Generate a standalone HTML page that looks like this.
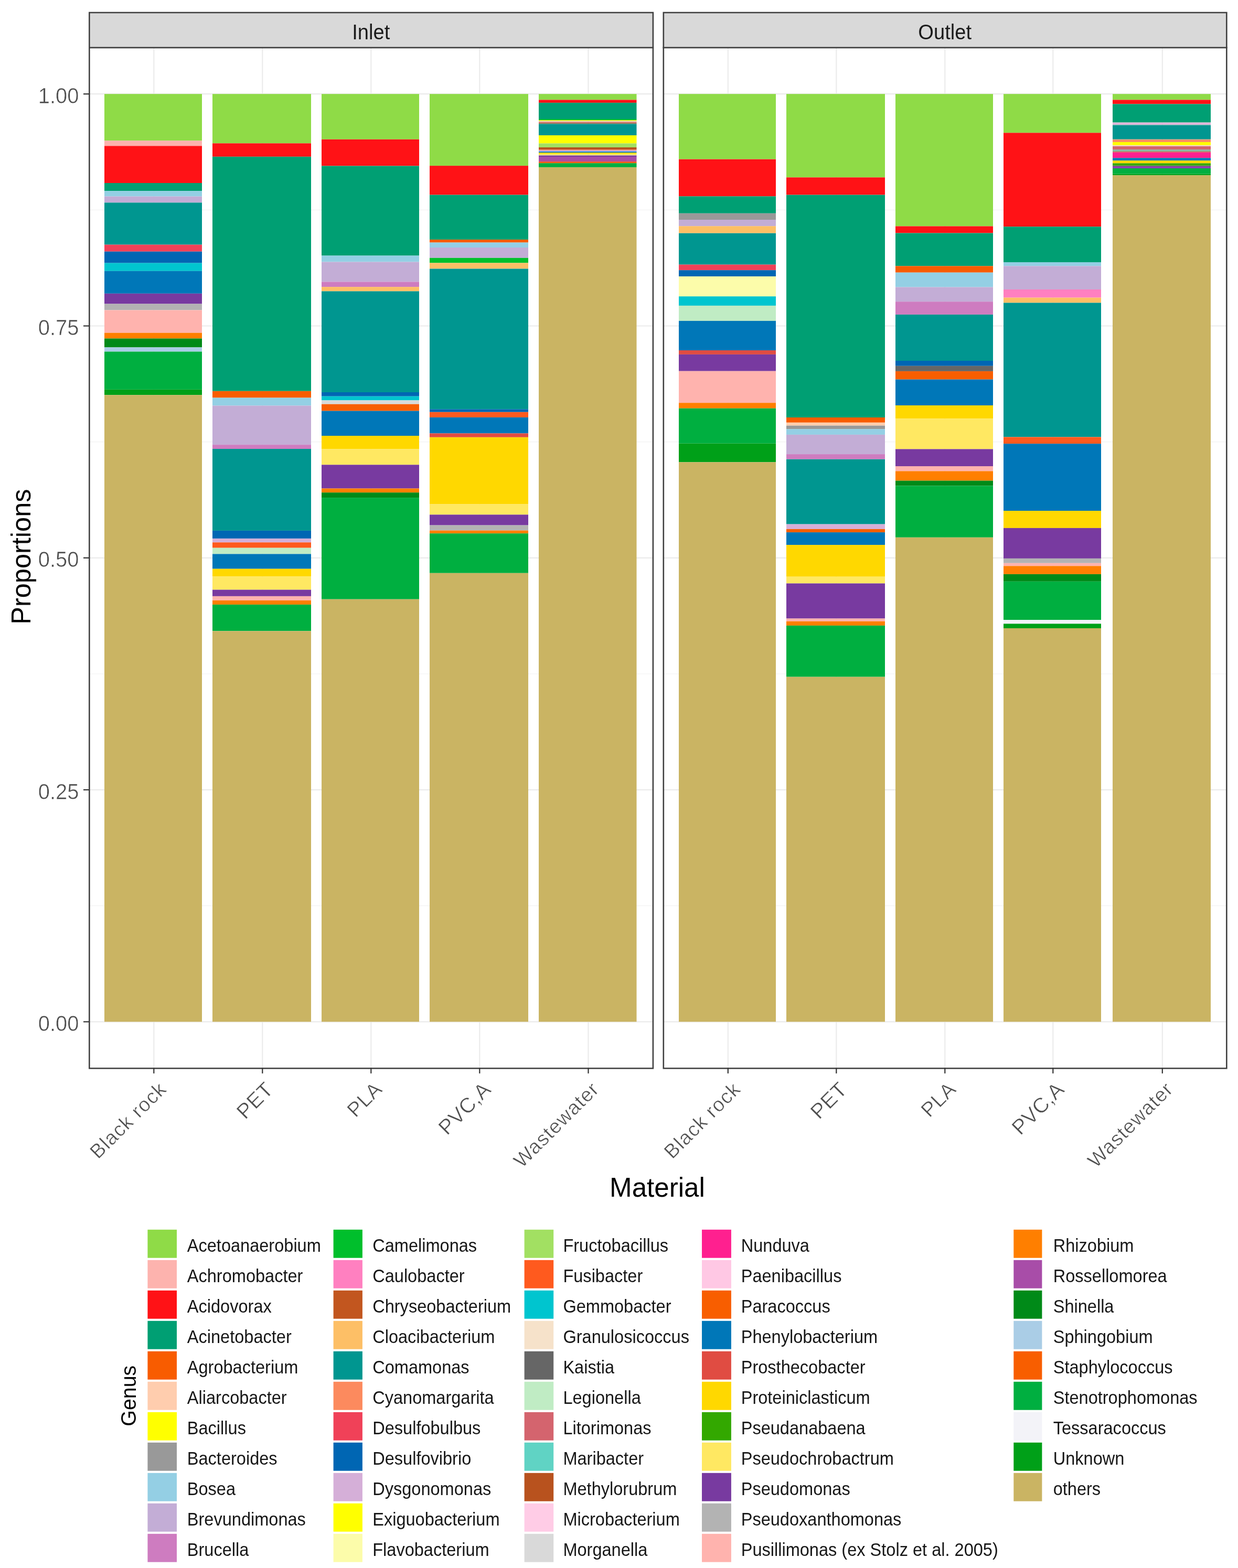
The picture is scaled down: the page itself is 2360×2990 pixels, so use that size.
<!DOCTYPE html>
<html><head><meta charset="utf-8"><title>Genus proportions by material</title>
<style>html,body{margin:0;padding:0;background:#fff;}svg{display:block;}text{font-family:'Liberation Sans', Arial, Helvetica, sans-serif;}</style></head><body>
<svg width="2360" height="2990" viewBox="0 0 2360 2990">
<rect x="0" y="0" width="2360" height="2990" fill="#FFFFFF"/>
<line x1="170.0" y1="1727.2" x2="1244.6" y2="1727.2" stroke="#F2F2F2" stroke-width="1.2"/>
<line x1="170.0" y1="1285.0" x2="1244.6" y2="1285.0" stroke="#F2F2F2" stroke-width="1.2"/>
<line x1="170.0" y1="842.7" x2="1244.6" y2="842.7" stroke="#F2F2F2" stroke-width="1.2"/>
<line x1="170.0" y1="400.4" x2="1244.6" y2="400.4" stroke="#F2F2F2" stroke-width="1.2"/>
<line x1="170.0" y1="1948.4" x2="1244.6" y2="1948.4" stroke="#EBEBEB" stroke-width="2.2"/>
<line x1="170.0" y1="1506.1" x2="1244.6" y2="1506.1" stroke="#EBEBEB" stroke-width="2.2"/>
<line x1="170.0" y1="1063.8" x2="1244.6" y2="1063.8" stroke="#EBEBEB" stroke-width="2.2"/>
<line x1="170.0" y1="621.5" x2="1244.6" y2="621.5" stroke="#EBEBEB" stroke-width="2.2"/>
<line x1="170.0" y1="179.2" x2="1244.6" y2="179.2" stroke="#EBEBEB" stroke-width="2.2"/>
<line x1="293.3" y1="90.8" x2="293.3" y2="2036.9" stroke="#EBEBEB" stroke-width="2.2"/>
<line x1="500.3" y1="90.8" x2="500.3" y2="2036.9" stroke="#EBEBEB" stroke-width="2.2"/>
<line x1="707.3" y1="90.8" x2="707.3" y2="2036.9" stroke="#EBEBEB" stroke-width="2.2"/>
<line x1="914.3" y1="90.8" x2="914.3" y2="2036.9" stroke="#EBEBEB" stroke-width="2.2"/>
<line x1="1121.5" y1="90.8" x2="1121.5" y2="2036.9" stroke="#EBEBEB" stroke-width="2.2"/>
<rect x="199.0" y="179.2" width="186.0" height="89.0" fill="#8FDB47"/>
<rect x="199.0" y="268.2" width="186.0" height="10.1" fill="#FDB3AE"/>
<rect x="199.0" y="278.3" width="186.0" height="70.7" fill="#FF1216"/>
<rect x="199.0" y="349.0" width="186.0" height="15.2" fill="#009F73"/>
<rect x="199.0" y="364.2" width="186.0" height="10.4" fill="#94CFE4"/>
<rect x="199.0" y="374.6" width="186.0" height="11.8" fill="#C3ADD6"/>
<rect x="199.0" y="386.4" width="186.0" height="80.2" fill="#009690"/>
<rect x="199.0" y="466.6" width="186.0" height="13.1" fill="#F04158"/>
<rect x="199.0" y="479.7" width="186.0" height="21.9" fill="#0066B3"/>
<rect x="199.0" y="501.6" width="186.0" height="15.2" fill="#00C5CF"/>
<rect x="199.0" y="516.8" width="186.0" height="43.0" fill="#0077B8"/>
<rect x="199.0" y="559.8" width="186.0" height="19.7" fill="#783AA0"/>
<rect x="199.0" y="579.5" width="186.0" height="11.9" fill="#B3B3B3"/>
<rect x="199.0" y="591.4" width="186.0" height="43.3" fill="#FFB3AE"/>
<rect x="199.0" y="634.7" width="186.0" height="10.8" fill="#FF7F00"/>
<rect x="199.0" y="645.5" width="186.0" height="16.9" fill="#008A18"/>
<rect x="199.0" y="662.4" width="186.0" height="8.1" fill="#AACDE6"/>
<rect x="199.0" y="670.5" width="186.0" height="72.3" fill="#00AF40"/>
<rect x="199.0" y="742.8" width="186.0" height="10.4" fill="#00A018"/>
<rect x="199.0" y="753.2" width="186.0" height="1195.2" fill="#CAB463"/>
<rect x="405.0" y="179.2" width="188.0" height="94.1" fill="#8FDB47"/>
<rect x="405.0" y="273.3" width="188.0" height="25.5" fill="#FF1216"/>
<rect x="405.0" y="298.8" width="188.0" height="447.0" fill="#009F73"/>
<rect x="405.0" y="745.8" width="188.0" height="12.7" fill="#F85C00"/>
<rect x="405.0" y="758.5" width="188.0" height="15.0" fill="#94CFE4"/>
<rect x="405.0" y="773.5" width="188.0" height="74.6" fill="#C3ADD6"/>
<rect x="405.0" y="848.1" width="188.0" height="7.9" fill="#CE7CC0"/>
<rect x="405.0" y="856.0" width="188.0" height="155.9" fill="#009690"/>
<rect x="405.0" y="1011.9" width="188.0" height="15.0" fill="#0066B3"/>
<rect x="405.0" y="1026.9" width="188.0" height="7.4" fill="#D5AFD8"/>
<rect x="405.0" y="1034.3" width="188.0" height="10.4" fill="#FF5A1E"/>
<rect x="405.0" y="1044.7" width="188.0" height="11.7" fill="#C0ECC4"/>
<rect x="405.0" y="1056.4" width="188.0" height="28.3" fill="#0077B8"/>
<rect x="405.0" y="1084.7" width="188.0" height="14.7" fill="#FFD800"/>
<rect x="405.0" y="1099.4" width="188.0" height="25.2" fill="#FFE862"/>
<rect x="405.0" y="1124.6" width="188.0" height="12.3" fill="#783AA0"/>
<rect x="405.0" y="1136.9" width="188.0" height="8.0" fill="#FFB3AE"/>
<rect x="405.0" y="1144.9" width="188.0" height="8.0" fill="#FF7F00"/>
<rect x="405.0" y="1152.9" width="188.0" height="50.4" fill="#00AF40"/>
<rect x="405.0" y="1203.3" width="188.0" height="745.1" fill="#CAB463"/>
<rect x="613.0" y="179.2" width="186.0" height="86.6" fill="#8FDB47"/>
<rect x="613.0" y="265.8" width="186.0" height="50.6" fill="#FF1216"/>
<rect x="613.0" y="316.4" width="186.0" height="171.1" fill="#009F73"/>
<rect x="613.0" y="487.5" width="186.0" height="12.0" fill="#94CFE4"/>
<rect x="613.0" y="499.5" width="186.0" height="37.9" fill="#C3ADD6"/>
<rect x="613.0" y="537.4" width="186.0" height="9.7" fill="#CE7CC0"/>
<rect x="613.0" y="547.1" width="186.0" height="8.3" fill="#FDBF66"/>
<rect x="613.0" y="555.4" width="186.0" height="192.6" fill="#009690"/>
<rect x="613.0" y="748.0" width="186.0" height="7.7" fill="#0066B3"/>
<rect x="613.0" y="755.7" width="186.0" height="7.7" fill="#00C5CF"/>
<rect x="613.0" y="763.4" width="186.0" height="7.3" fill="#D9D9D9"/>
<rect x="613.0" y="770.7" width="186.0" height="12.9" fill="#F85E00"/>
<rect x="613.0" y="783.6" width="186.0" height="47.4" fill="#0077B8"/>
<rect x="613.0" y="831.0" width="186.0" height="25.2" fill="#FFD800"/>
<rect x="613.0" y="856.2" width="186.0" height="30.1" fill="#FFE862"/>
<rect x="613.0" y="886.3" width="186.0" height="45.2" fill="#783AA0"/>
<rect x="613.0" y="931.5" width="186.0" height="7.7" fill="#FF7F00"/>
<rect x="613.0" y="939.2" width="186.0" height="9.9" fill="#008A18"/>
<rect x="613.0" y="949.1" width="186.0" height="193.6" fill="#00AF40"/>
<rect x="613.0" y="1142.7" width="186.0" height="805.7" fill="#CAB463"/>
<rect x="819.0" y="179.2" width="188.0" height="136.9" fill="#8FDB47"/>
<rect x="819.0" y="316.1" width="188.0" height="55.5" fill="#FF1216"/>
<rect x="819.0" y="371.6" width="188.0" height="85.3" fill="#009F73"/>
<rect x="819.0" y="456.9" width="188.0" height="5.6" fill="#F85C00"/>
<rect x="819.0" y="462.5" width="188.0" height="9.5" fill="#94CFE4"/>
<rect x="819.0" y="472.0" width="188.0" height="19.8" fill="#C3ADD6"/>
<rect x="819.0" y="491.8" width="188.0" height="9.6" fill="#00BF2C"/>
<rect x="819.0" y="501.4" width="188.0" height="11.1" fill="#FDBF66"/>
<rect x="819.0" y="512.5" width="188.0" height="267.8" fill="#009690"/>
<rect x="819.0" y="780.3" width="188.0" height="5.5" fill="#0066B3"/>
<rect x="819.0" y="785.8" width="188.0" height="10.1" fill="#FF5A1E"/>
<rect x="819.0" y="795.9" width="188.0" height="30.5" fill="#0077B8"/>
<rect x="819.0" y="826.4" width="188.0" height="7.4" fill="#E04C42"/>
<rect x="819.0" y="833.8" width="188.0" height="127.7" fill="#FFD800"/>
<rect x="819.0" y="961.5" width="188.0" height="19.9" fill="#FFE862"/>
<rect x="819.0" y="981.4" width="188.0" height="20.2" fill="#783AA0"/>
<rect x="819.0" y="1001.6" width="188.0" height="10.0" fill="#B3B3B3"/>
<rect x="819.0" y="1011.6" width="188.0" height="5.6" fill="#FF7F00"/>
<rect x="819.0" y="1017.2" width="188.0" height="75.6" fill="#00AF40"/>
<rect x="819.0" y="1092.8" width="188.0" height="855.6" fill="#CAB463"/>
<rect x="1027.0" y="179.2" width="186.5" height="11.2" fill="#8FDB47"/>
<rect x="1027.0" y="190.4" width="186.5" height="5.5" fill="#FF1216"/>
<rect x="1027.0" y="195.9" width="186.5" height="31.1" fill="#009F73"/>
<rect x="1027.0" y="227.0" width="186.5" height="2.0" fill="#00BF2C"/>
<rect x="1027.0" y="229.0" width="186.5" height="2.2" fill="#F2F245"/>
<rect x="1027.0" y="231.2" width="186.5" height="1.6" fill="#DDB8C0"/>
<rect x="1027.0" y="232.8" width="186.5" height="2.0" fill="#D86858"/>
<rect x="1027.0" y="234.8" width="186.5" height="1.7" fill="#767050"/>
<rect x="1027.0" y="236.5" width="186.5" height="21.5" fill="#009690"/>
<rect x="1027.0" y="258.0" width="186.5" height="15.5" fill="#FFFF00"/>
<rect x="1027.0" y="273.5" width="186.5" height="7.5" fill="#A2E062"/>
<rect x="1027.0" y="281.0" width="186.5" height="4.0" fill="#B8521E"/>
<rect x="1027.0" y="285.0" width="186.5" height="2.1" fill="#F09080"/>
<rect x="1027.0" y="287.1" width="186.5" height="2.1" fill="#B0B0E8"/>
<rect x="1027.0" y="289.2" width="186.5" height="1.9" fill="#0077B8"/>
<rect x="1027.0" y="291.1" width="186.5" height="2.2" fill="#FFD800"/>
<rect x="1027.0" y="293.3" width="186.5" height="2.2" fill="#FFF040"/>
<rect x="1027.0" y="295.5" width="186.5" height="1.3" fill="#C8A890"/>
<rect x="1027.0" y="296.8" width="186.5" height="2.2" fill="#783AA0"/>
<rect x="1027.0" y="299.0" width="186.5" height="8.0" fill="#A84DA8"/>
<rect x="1027.0" y="307.0" width="186.5" height="1.9" fill="#D05070"/>
<rect x="1027.0" y="308.9" width="186.5" height="2.3" fill="#F85E00"/>
<rect x="1027.0" y="311.2" width="186.5" height="7.7" fill="#00AF40"/>
<rect x="1027.0" y="318.9" width="186.5" height="1629.5" fill="#CAB463"/>
<rect x="170.3" y="90.8" width="1074.6" height="1946.4" fill="none" stroke="#404040" stroke-width="2.6"/>
<rect x="170.3" y="24.0" width="1074.6" height="66.8" fill="#D9D9D9" stroke="#404040" stroke-width="2.6"/>
<text x="0" y="0" font-size="41" fill="#1A1A1A" text-anchor="middle" transform="translate(707.3 75.0) scale(0.9300 1)">Inlet</text>
<line x1="293.3" y1="2036.9" x2="293.3" y2="2046.9" stroke="#333333" stroke-width="2.2"/>
<text x="0" y="0" font-size="38" fill="#4D4D4D" text-anchor="end" dominant-baseline="hanging" stroke="#ffffff" stroke-width="0.6" letter-spacing="1.2" transform="translate(300.3 2059.9) rotate(-45)">Black rock</text>
<line x1="500.3" y1="2036.9" x2="500.3" y2="2046.9" stroke="#333333" stroke-width="2.2"/>
<text x="0" y="0" font-size="40" fill="#4D4D4D" text-anchor="end" dominant-baseline="hanging" stroke="#ffffff" stroke-width="0.6" letter-spacing="0.3" transform="translate(502.8 2059.9) rotate(-45)">PET</text>
<line x1="707.3" y1="2036.9" x2="707.3" y2="2046.9" stroke="#333333" stroke-width="2.2"/>
<text x="0" y="0" font-size="39" fill="#4D4D4D" text-anchor="end" dominant-baseline="hanging" stroke="#ffffff" stroke-width="0.6" letter-spacing="0.3" transform="translate(710.8 2059.9) rotate(-45)">PLA</text>
<line x1="914.3" y1="2036.9" x2="914.3" y2="2046.9" stroke="#333333" stroke-width="2.2"/>
<text x="0" y="0" font-size="40" fill="#4D4D4D" text-anchor="end" dominant-baseline="hanging" stroke="#ffffff" stroke-width="0.6" letter-spacing="0.3" transform="translate(917.8 2059.9) rotate(-45)">PVC,A</text>
<line x1="1121.5" y1="2036.9" x2="1121.5" y2="2046.9" stroke="#333333" stroke-width="2.2"/>
<text x="0" y="0" font-size="38" fill="#4D4D4D" text-anchor="end" dominant-baseline="hanging" stroke="#ffffff" stroke-width="0.6" letter-spacing="1.2" transform="translate(1125.0 2059.9) rotate(-45)">Wastewater</text>
<line x1="1264.5" y1="1727.2" x2="2338.0" y2="1727.2" stroke="#F2F2F2" stroke-width="1.2"/>
<line x1="1264.5" y1="1285.0" x2="2338.0" y2="1285.0" stroke="#F2F2F2" stroke-width="1.2"/>
<line x1="1264.5" y1="842.7" x2="2338.0" y2="842.7" stroke="#F2F2F2" stroke-width="1.2"/>
<line x1="1264.5" y1="400.4" x2="2338.0" y2="400.4" stroke="#F2F2F2" stroke-width="1.2"/>
<line x1="1264.5" y1="1948.4" x2="2338.0" y2="1948.4" stroke="#EBEBEB" stroke-width="2.2"/>
<line x1="1264.5" y1="1506.1" x2="2338.0" y2="1506.1" stroke="#EBEBEB" stroke-width="2.2"/>
<line x1="1264.5" y1="1063.8" x2="2338.0" y2="1063.8" stroke="#EBEBEB" stroke-width="2.2"/>
<line x1="1264.5" y1="621.5" x2="2338.0" y2="621.5" stroke="#EBEBEB" stroke-width="2.2"/>
<line x1="1264.5" y1="179.2" x2="2338.0" y2="179.2" stroke="#EBEBEB" stroke-width="2.2"/>
<line x1="1387.8" y1="90.8" x2="1387.8" y2="2036.9" stroke="#EBEBEB" stroke-width="2.2"/>
<line x1="1594.3" y1="90.8" x2="1594.3" y2="2036.9" stroke="#EBEBEB" stroke-width="2.2"/>
<line x1="1801.3" y1="90.8" x2="1801.3" y2="2036.9" stroke="#EBEBEB" stroke-width="2.2"/>
<line x1="2007.3" y1="90.8" x2="2007.3" y2="2036.9" stroke="#EBEBEB" stroke-width="2.2"/>
<line x1="2215.8" y1="90.8" x2="2215.8" y2="2036.9" stroke="#EBEBEB" stroke-width="2.2"/>
<rect x="1294.0" y="179.2" width="185.0" height="124.5" fill="#8FDB47"/>
<rect x="1294.0" y="303.7" width="185.0" height="70.7" fill="#FF1216"/>
<rect x="1294.0" y="374.4" width="185.0" height="32.4" fill="#009F73"/>
<rect x="1294.0" y="406.8" width="185.0" height="12.2" fill="#999999"/>
<rect x="1294.0" y="419.0" width="185.0" height="12.2" fill="#C3ADD6"/>
<rect x="1294.0" y="431.2" width="185.0" height="13.5" fill="#FDBF66"/>
<rect x="1294.0" y="444.7" width="185.0" height="59.9" fill="#009690"/>
<rect x="1294.0" y="504.6" width="185.0" height="10.6" fill="#F04158"/>
<rect x="1294.0" y="515.2" width="185.0" height="11.9" fill="#0066B3"/>
<rect x="1294.0" y="527.1" width="185.0" height="38.1" fill="#FCFCAA"/>
<rect x="1294.0" y="565.2" width="185.0" height="17.7" fill="#00C5CF"/>
<rect x="1294.0" y="582.9" width="185.0" height="29.0" fill="#C0ECC4"/>
<rect x="1294.0" y="611.9" width="185.0" height="56.1" fill="#0077B8"/>
<rect x="1294.0" y="668.0" width="185.0" height="7.9" fill="#E04C42"/>
<rect x="1294.0" y="675.9" width="185.0" height="31.8" fill="#783AA0"/>
<rect x="1294.0" y="707.7" width="185.0" height="60.5" fill="#FFB3AE"/>
<rect x="1294.0" y="768.2" width="185.0" height="10.5" fill="#FF7F00"/>
<rect x="1294.0" y="778.7" width="185.0" height="67.0" fill="#00AF40"/>
<rect x="1294.0" y="845.7" width="185.0" height="35.6" fill="#00A018"/>
<rect x="1294.0" y="881.3" width="185.0" height="1067.1" fill="#CAB463"/>
<rect x="1499.0" y="179.2" width="188.0" height="159.1" fill="#8FDB47"/>
<rect x="1499.0" y="338.3" width="188.0" height="33.3" fill="#FF1216"/>
<rect x="1499.0" y="371.6" width="188.0" height="424.4" fill="#009F73"/>
<rect x="1499.0" y="796.0" width="188.0" height="9.8" fill="#F85C00"/>
<rect x="1499.0" y="805.8" width="188.0" height="5.8" fill="#FFCDAE"/>
<rect x="1499.0" y="811.6" width="188.0" height="6.6" fill="#999999"/>
<rect x="1499.0" y="818.2" width="188.0" height="10.7" fill="#94CFE4"/>
<rect x="1499.0" y="828.9" width="188.0" height="37.2" fill="#C3ADD6"/>
<rect x="1499.0" y="866.1" width="188.0" height="9.7" fill="#CE7CC0"/>
<rect x="1499.0" y="875.8" width="188.0" height="123.8" fill="#009690"/>
<rect x="1499.0" y="999.6" width="188.0" height="9.3" fill="#D5AFD8"/>
<rect x="1499.0" y="1008.9" width="188.0" height="6.2" fill="#F85E00"/>
<rect x="1499.0" y="1015.1" width="188.0" height="24.0" fill="#0077B8"/>
<rect x="1499.0" y="1039.1" width="188.0" height="60.6" fill="#FFD800"/>
<rect x="1499.0" y="1099.7" width="188.0" height="12.8" fill="#FFE862"/>
<rect x="1499.0" y="1112.5" width="188.0" height="67.0" fill="#783AA0"/>
<rect x="1499.0" y="1179.5" width="188.0" height="5.3" fill="#FFB3AE"/>
<rect x="1499.0" y="1184.8" width="188.0" height="8.1" fill="#FF7F00"/>
<rect x="1499.0" y="1192.9" width="188.0" height="97.8" fill="#00AF40"/>
<rect x="1499.0" y="1290.7" width="188.0" height="657.7" fill="#CAB463"/>
<rect x="1707.0" y="179.2" width="186.0" height="252.2" fill="#8FDB47"/>
<rect x="1707.0" y="431.4" width="186.0" height="13.1" fill="#FF1216"/>
<rect x="1707.0" y="444.5" width="186.0" height="62.8" fill="#009F73"/>
<rect x="1707.0" y="507.3" width="186.0" height="12.4" fill="#F85C00"/>
<rect x="1707.0" y="519.7" width="186.0" height="27.8" fill="#94CFE4"/>
<rect x="1707.0" y="547.5" width="186.0" height="27.7" fill="#C3ADD6"/>
<rect x="1707.0" y="575.2" width="186.0" height="24.7" fill="#CE7CC0"/>
<rect x="1707.0" y="599.9" width="186.0" height="88.1" fill="#009690"/>
<rect x="1707.0" y="688.0" width="186.0" height="9.8" fill="#0066B3"/>
<rect x="1707.0" y="697.8" width="186.0" height="10.1" fill="#666666"/>
<rect x="1707.0" y="707.9" width="186.0" height="15.7" fill="#F85E00"/>
<rect x="1707.0" y="723.6" width="186.0" height="49.4" fill="#0077B8"/>
<rect x="1707.0" y="773.0" width="186.0" height="25.3" fill="#FFD800"/>
<rect x="1707.0" y="798.3" width="186.0" height="58.1" fill="#FFE862"/>
<rect x="1707.0" y="856.4" width="186.0" height="32.6" fill="#783AA0"/>
<rect x="1707.0" y="889.0" width="186.0" height="9.4" fill="#FFB3AE"/>
<rect x="1707.0" y="898.4" width="186.0" height="18.2" fill="#FF7F00"/>
<rect x="1707.0" y="916.6" width="186.0" height="9.9" fill="#008A18"/>
<rect x="1707.0" y="926.5" width="186.0" height="98.3" fill="#00AF40"/>
<rect x="1707.0" y="1024.8" width="186.0" height="923.6" fill="#CAB463"/>
<rect x="1913.0" y="179.2" width="186.0" height="74.1" fill="#8FDB47"/>
<rect x="1913.0" y="253.3" width="186.0" height="178.9" fill="#FF1216"/>
<rect x="1913.0" y="432.2" width="186.0" height="67.8" fill="#009F73"/>
<rect x="1913.0" y="500.0" width="186.0" height="7.3" fill="#94CFE4"/>
<rect x="1913.0" y="507.3" width="186.0" height="44.7" fill="#C3ADD6"/>
<rect x="1913.0" y="552.0" width="186.0" height="15.6" fill="#FF80C0"/>
<rect x="1913.0" y="567.6" width="186.0" height="9.8" fill="#FDBF66"/>
<rect x="1913.0" y="577.4" width="186.0" height="256.0" fill="#009690"/>
<rect x="1913.0" y="833.4" width="186.0" height="12.7" fill="#FF5A1E"/>
<rect x="1913.0" y="846.1" width="186.0" height="127.9" fill="#0077B8"/>
<rect x="1913.0" y="974.0" width="186.0" height="32.9" fill="#FFD800"/>
<rect x="1913.0" y="1006.9" width="186.0" height="58.0" fill="#783AA0"/>
<rect x="1913.0" y="1064.9" width="186.0" height="8.9" fill="#B3B3B3"/>
<rect x="1913.0" y="1073.8" width="186.0" height="5.5" fill="#FFB3AE"/>
<rect x="1913.0" y="1079.3" width="186.0" height="15.6" fill="#FF7F00"/>
<rect x="1913.0" y="1094.9" width="186.0" height="13.9" fill="#008A18"/>
<rect x="1913.0" y="1108.8" width="186.0" height="73.4" fill="#00AF40"/>
<rect x="1913.0" y="1182.2" width="186.0" height="7.2" fill="#F3F3F8"/>
<rect x="1913.0" y="1189.4" width="186.0" height="8.6" fill="#00A018"/>
<rect x="1913.0" y="1198.0" width="186.0" height="750.4" fill="#CAB463"/>
<rect x="2121.0" y="179.2" width="187.0" height="11.2" fill="#8FDB47"/>
<rect x="2121.0" y="190.4" width="187.0" height="8.0" fill="#FF1216"/>
<rect x="2121.0" y="198.4" width="187.0" height="34.8" fill="#009F73"/>
<rect x="2121.0" y="233.2" width="187.0" height="1.4" fill="#9AB0B0"/>
<rect x="2121.0" y="234.6" width="187.0" height="2.8" fill="#E6B0E0"/>
<rect x="2121.0" y="237.4" width="187.0" height="1.2" fill="#9AB0B0"/>
<rect x="2121.0" y="238.6" width="187.0" height="26.7" fill="#009690"/>
<rect x="2121.0" y="265.3" width="187.0" height="1.2" fill="#7A8870"/>
<rect x="2121.0" y="266.5" width="187.0" height="4.4" fill="#FC8A5E"/>
<rect x="2121.0" y="270.9" width="187.0" height="6.0" fill="#FFFF00"/>
<rect x="2121.0" y="276.9" width="187.0" height="2.1" fill="#F0D0C8"/>
<rect x="2121.0" y="279.0" width="187.0" height="6.1" fill="#D4646E"/>
<rect x="2121.0" y="285.1" width="187.0" height="4.0" fill="#90B4A0"/>
<rect x="2121.0" y="289.1" width="187.0" height="1.5" fill="#C85038"/>
<rect x="2121.0" y="290.6" width="187.0" height="10.6" fill="#FF208F"/>
<rect x="2121.0" y="301.2" width="187.0" height="5.0" fill="#0077B8"/>
<rect x="2121.0" y="306.2" width="187.0" height="5.1" fill="#FFD800"/>
<rect x="2121.0" y="311.3" width="187.0" height="4.0" fill="#33A800"/>
<rect x="2121.0" y="315.3" width="187.0" height="1.7" fill="#508040"/>
<rect x="2121.0" y="317.0" width="187.0" height="4.0" fill="#9040B0"/>
<rect x="2121.0" y="321.0" width="187.0" height="10.7" fill="#00AF40"/>
<rect x="2121.0" y="331.7" width="187.0" height="2.5" fill="#00A018"/>
<rect x="2121.0" y="334.2" width="187.0" height="1614.2" fill="#CAB463"/>
<rect x="1264.8" y="90.8" width="1073.5" height="1946.4" fill="none" stroke="#404040" stroke-width="2.6"/>
<rect x="1264.8" y="24.0" width="1073.5" height="66.8" fill="#D9D9D9" stroke="#404040" stroke-width="2.6"/>
<text x="0" y="0" font-size="41" fill="#1A1A1A" text-anchor="middle" transform="translate(1801.2 75.0) scale(0.9300 1)">Outlet</text>
<line x1="1387.8" y1="2036.9" x2="1387.8" y2="2046.9" stroke="#333333" stroke-width="2.2"/>
<text x="0" y="0" font-size="38" fill="#4D4D4D" text-anchor="end" dominant-baseline="hanging" stroke="#ffffff" stroke-width="0.6" letter-spacing="1.2" transform="translate(1394.8 2059.9) rotate(-45)">Black rock</text>
<line x1="1594.3" y1="2036.9" x2="1594.3" y2="2046.9" stroke="#333333" stroke-width="2.2"/>
<text x="0" y="0" font-size="40" fill="#4D4D4D" text-anchor="end" dominant-baseline="hanging" stroke="#ffffff" stroke-width="0.6" letter-spacing="0.3" transform="translate(1596.8 2059.9) rotate(-45)">PET</text>
<line x1="1801.3" y1="2036.9" x2="1801.3" y2="2046.9" stroke="#333333" stroke-width="2.2"/>
<text x="0" y="0" font-size="39" fill="#4D4D4D" text-anchor="end" dominant-baseline="hanging" stroke="#ffffff" stroke-width="0.6" letter-spacing="0.3" transform="translate(1804.8 2059.9) rotate(-45)">PLA</text>
<line x1="2007.3" y1="2036.9" x2="2007.3" y2="2046.9" stroke="#333333" stroke-width="2.2"/>
<text x="0" y="0" font-size="40" fill="#4D4D4D" text-anchor="end" dominant-baseline="hanging" stroke="#ffffff" stroke-width="0.6" letter-spacing="0.3" transform="translate(2010.8 2059.9) rotate(-45)">PVC,A</text>
<line x1="2215.8" y1="2036.9" x2="2215.8" y2="2046.9" stroke="#333333" stroke-width="2.2"/>
<text x="0" y="0" font-size="38" fill="#4D4D4D" text-anchor="end" dominant-baseline="hanging" stroke="#ffffff" stroke-width="0.6" letter-spacing="1.2" transform="translate(2219.3 2059.9) rotate(-45)">Wastewater</text>
<line x1="159" y1="1948.4" x2="170" y2="1948.4" stroke="#333333" stroke-width="2.2"/>
<text x="0" y="0" font-size="42" fill="#4D4D4D" text-anchor="end" stroke="#ffffff" stroke-width="0.6" transform="translate(150.5 1965.9) scale(0.9500 1)">0.00</text>
<line x1="159" y1="1506.1" x2="170" y2="1506.1" stroke="#333333" stroke-width="2.2"/>
<text x="0" y="0" font-size="42" fill="#4D4D4D" text-anchor="end" stroke="#ffffff" stroke-width="0.6" transform="translate(150.5 1523.6) scale(0.9500 1)">0.25</text>
<line x1="159" y1="1063.8" x2="170" y2="1063.8" stroke="#333333" stroke-width="2.2"/>
<text x="0" y="0" font-size="42" fill="#4D4D4D" text-anchor="end" stroke="#ffffff" stroke-width="0.6" transform="translate(150.5 1081.3) scale(0.9500 1)">0.50</text>
<line x1="159" y1="621.5" x2="170" y2="621.5" stroke="#333333" stroke-width="2.2"/>
<text x="0" y="0" font-size="42" fill="#4D4D4D" text-anchor="end" stroke="#ffffff" stroke-width="0.6" transform="translate(150.5 639.0) scale(0.9500 1)">0.75</text>
<line x1="159" y1="179.2" x2="170" y2="179.2" stroke="#333333" stroke-width="2.2"/>
<text x="0" y="0" font-size="42" fill="#4D4D4D" text-anchor="end" stroke="#ffffff" stroke-width="0.6" transform="translate(150.5 196.7) scale(0.9500 1)">1.00</text>
<text x="0" y="0" font-size="52" fill="#000000" text-anchor="middle" transform="translate(1253.0 2281.5) scale(0.9830 1)">Material</text>
<text x="0" y="0" font-size="52" fill="#000000" text-anchor="middle" transform="translate(58.2 1061.6) rotate(-90) scale(0.9710 1)">Proportions</text>
<rect x="281.4" y="2344.8" width="55.6" height="53.9" fill="#8FDB47"/>
<text x="0" y="0" font-size="35" fill="#161616" transform="translate(356.8 2387.1) scale(0.9300 1)">Acetoanaerobium</text>
<rect x="281.4" y="2402.8" width="55.6" height="53.9" fill="#FDB3AE"/>
<text x="0" y="0" font-size="35" fill="#161616" transform="translate(356.8 2445.1) scale(0.9300 1)">Achromobacter</text>
<rect x="281.4" y="2460.8" width="55.6" height="53.9" fill="#FF1216"/>
<text x="0" y="0" font-size="35" fill="#161616" transform="translate(356.8 2503.1) scale(0.9300 1)">Acidovorax</text>
<rect x="281.4" y="2518.8" width="55.6" height="53.9" fill="#009F73"/>
<text x="0" y="0" font-size="35" fill="#161616" transform="translate(356.8 2561.1) scale(0.9300 1)">Acinetobacter</text>
<rect x="281.4" y="2576.8" width="55.6" height="53.9" fill="#F85C00"/>
<text x="0" y="0" font-size="35" fill="#161616" transform="translate(356.8 2619.1) scale(0.9300 1)">Agrobacterium</text>
<rect x="281.4" y="2634.8" width="55.6" height="53.9" fill="#FFCDAE"/>
<text x="0" y="0" font-size="35" fill="#161616" transform="translate(356.8 2677.1) scale(0.9300 1)">Aliarcobacter</text>
<rect x="281.4" y="2692.8" width="55.6" height="53.9" fill="#FFFF00"/>
<text x="0" y="0" font-size="35" fill="#161616" transform="translate(356.8 2735.1) scale(0.9300 1)">Bacillus</text>
<rect x="281.4" y="2750.8" width="55.6" height="53.9" fill="#999999"/>
<text x="0" y="0" font-size="35" fill="#161616" transform="translate(356.8 2793.1) scale(0.9300 1)">Bacteroides</text>
<rect x="281.4" y="2808.8" width="55.6" height="53.9" fill="#94CFE4"/>
<text x="0" y="0" font-size="35" fill="#161616" transform="translate(356.8 2851.1) scale(0.9300 1)">Bosea</text>
<rect x="281.4" y="2866.8" width="55.6" height="53.9" fill="#C3ADD6"/>
<text x="0" y="0" font-size="35" fill="#161616" transform="translate(356.8 2909.1) scale(0.9300 1)">Brevundimonas</text>
<rect x="281.4" y="2924.8" width="55.6" height="53.9" fill="#CE7CC0"/>
<text x="0" y="0" font-size="35" fill="#161616" transform="translate(356.8 2967.1) scale(0.9300 1)">Brucella</text>
<rect x="635.6" y="2344.8" width="55.3" height="53.9" fill="#00BF2C"/>
<text x="0" y="0" font-size="35" fill="#161616" transform="translate(710.2 2387.1) scale(0.9300 1)">Camelimonas</text>
<rect x="635.6" y="2402.8" width="55.3" height="53.9" fill="#FF80C0"/>
<text x="0" y="0" font-size="35" fill="#161616" transform="translate(710.2 2445.1) scale(0.9300 1)">Caulobacter</text>
<rect x="635.6" y="2460.8" width="55.3" height="53.9" fill="#C2561F"/>
<text x="0" y="0" font-size="35" fill="#161616" transform="translate(710.2 2503.1) scale(0.9300 1)">Chryseobacterium</text>
<rect x="635.6" y="2518.8" width="55.3" height="53.9" fill="#FDBF66"/>
<text x="0" y="0" font-size="35" fill="#161616" transform="translate(710.2 2561.1) scale(0.9300 1)">Cloacibacterium</text>
<rect x="635.6" y="2576.8" width="55.3" height="53.9" fill="#009690"/>
<text x="0" y="0" font-size="35" fill="#161616" transform="translate(710.2 2619.1) scale(0.9300 1)">Comamonas</text>
<rect x="635.6" y="2634.8" width="55.3" height="53.9" fill="#FC8A5E"/>
<text x="0" y="0" font-size="35" fill="#161616" transform="translate(710.2 2677.1) scale(0.9300 1)">Cyanomargarita</text>
<rect x="635.6" y="2692.8" width="55.3" height="53.9" fill="#F04158"/>
<text x="0" y="0" font-size="35" fill="#161616" transform="translate(710.2 2735.1) scale(0.9300 1)">Desulfobulbus</text>
<rect x="635.6" y="2750.8" width="55.3" height="53.9" fill="#0066B3"/>
<text x="0" y="0" font-size="35" fill="#161616" transform="translate(710.2 2793.1) scale(0.9300 1)">Desulfovibrio</text>
<rect x="635.6" y="2808.8" width="55.3" height="53.9" fill="#D5AFD8"/>
<text x="0" y="0" font-size="35" fill="#161616" transform="translate(710.2 2851.1) scale(0.9300 1)">Dysgonomonas</text>
<rect x="635.6" y="2866.8" width="55.3" height="53.9" fill="#FFFF00"/>
<text x="0" y="0" font-size="35" fill="#161616" transform="translate(710.2 2909.1) scale(0.9300 1)">Exiguobacterium</text>
<rect x="635.6" y="2924.8" width="55.3" height="53.9" fill="#FCFCAA"/>
<text x="0" y="0" font-size="35" fill="#161616" transform="translate(710.2 2967.1) scale(0.9300 1)">Flavobacterium</text>
<rect x="999.6" y="2344.8" width="55.6" height="53.9" fill="#A2E062"/>
<text x="0" y="0" font-size="35" fill="#161616" transform="translate(1073.4 2387.1) scale(0.9300 1)">Fructobacillus</text>
<rect x="999.6" y="2402.8" width="55.6" height="53.9" fill="#FF5A1E"/>
<text x="0" y="0" font-size="35" fill="#161616" transform="translate(1073.4 2445.1) scale(0.9300 1)">Fusibacter</text>
<rect x="999.6" y="2460.8" width="55.6" height="53.9" fill="#00C5CF"/>
<text x="0" y="0" font-size="35" fill="#161616" transform="translate(1073.4 2503.1) scale(0.9300 1)">Gemmobacter</text>
<rect x="999.6" y="2518.8" width="55.6" height="53.9" fill="#F6E2CA"/>
<text x="0" y="0" font-size="35" fill="#161616" transform="translate(1073.4 2561.1) scale(0.9300 1)">Granulosicoccus</text>
<rect x="999.6" y="2576.8" width="55.6" height="53.9" fill="#666666"/>
<text x="0" y="0" font-size="35" fill="#161616" transform="translate(1073.4 2619.1) scale(0.9300 1)">Kaistia</text>
<rect x="999.6" y="2634.8" width="55.6" height="53.9" fill="#C0ECC4"/>
<text x="0" y="0" font-size="35" fill="#161616" transform="translate(1073.4 2677.1) scale(0.9300 1)">Legionella</text>
<rect x="999.6" y="2692.8" width="55.6" height="53.9" fill="#D4646E"/>
<text x="0" y="0" font-size="35" fill="#161616" transform="translate(1073.4 2735.1) scale(0.9300 1)">Litorimonas</text>
<rect x="999.6" y="2750.8" width="55.6" height="53.9" fill="#60D3C4"/>
<text x="0" y="0" font-size="35" fill="#161616" transform="translate(1073.4 2793.1) scale(0.9300 1)">Maribacter</text>
<rect x="999.6" y="2808.8" width="55.6" height="53.9" fill="#B8521E"/>
<text x="0" y="0" font-size="35" fill="#161616" transform="translate(1073.4 2851.1) scale(0.9300 1)">Methylorubrum</text>
<rect x="999.6" y="2866.8" width="55.6" height="53.9" fill="#FFCCE6"/>
<text x="0" y="0" font-size="35" fill="#161616" transform="translate(1073.4 2909.1) scale(0.9300 1)">Microbacterium</text>
<rect x="999.6" y="2924.8" width="55.6" height="53.9" fill="#D9D9D9"/>
<text x="0" y="0" font-size="35" fill="#161616" transform="translate(1073.4 2967.1) scale(0.9300 1)">Morganella</text>
<rect x="1338.0" y="2344.8" width="55.9" height="53.9" fill="#FF208F"/>
<text x="0" y="0" font-size="35" fill="#161616" transform="translate(1412.7 2387.1) scale(0.9300 1)">Nunduva</text>
<rect x="1338.0" y="2402.8" width="55.9" height="53.9" fill="#FFC8E4"/>
<text x="0" y="0" font-size="35" fill="#161616" transform="translate(1412.7 2445.1) scale(0.9300 1)">Paenibacillus</text>
<rect x="1338.0" y="2460.8" width="55.9" height="53.9" fill="#F85E00"/>
<text x="0" y="0" font-size="35" fill="#161616" transform="translate(1412.7 2503.1) scale(0.9300 1)">Paracoccus</text>
<rect x="1338.0" y="2518.8" width="55.9" height="53.9" fill="#0077B8"/>
<text x="0" y="0" font-size="35" fill="#161616" transform="translate(1412.7 2561.1) scale(0.9300 1)">Phenylobacterium</text>
<rect x="1338.0" y="2576.8" width="55.9" height="53.9" fill="#E04C42"/>
<text x="0" y="0" font-size="35" fill="#161616" transform="translate(1412.7 2619.1) scale(0.9300 1)">Prosthecobacter</text>
<rect x="1338.0" y="2634.8" width="55.9" height="53.9" fill="#FFD800"/>
<text x="0" y="0" font-size="35" fill="#161616" transform="translate(1412.7 2677.1) scale(0.9300 1)">Proteiniclasticum</text>
<rect x="1338.0" y="2692.8" width="55.9" height="53.9" fill="#33A800"/>
<text x="0" y="0" font-size="35" fill="#161616" transform="translate(1412.7 2735.1) scale(0.9300 1)">Pseudanabaena</text>
<rect x="1338.0" y="2750.8" width="55.9" height="53.9" fill="#FFE862"/>
<text x="0" y="0" font-size="35" fill="#161616" transform="translate(1412.7 2793.1) scale(0.9300 1)">Pseudochrobactrum</text>
<rect x="1338.0" y="2808.8" width="55.9" height="53.9" fill="#783AA0"/>
<text x="0" y="0" font-size="35" fill="#161616" transform="translate(1412.7 2851.1) scale(0.9300 1)">Pseudomonas</text>
<rect x="1338.0" y="2866.8" width="55.9" height="53.9" fill="#B3B3B3"/>
<text x="0" y="0" font-size="35" fill="#161616" transform="translate(1412.7 2909.1) scale(0.9300 1)">Pseudoxanthomonas</text>
<rect x="1338.0" y="2924.8" width="55.9" height="53.9" fill="#FFB3AE"/>
<text x="0" y="0" font-size="35" fill="#161616" transform="translate(1412.7 2967.1) scale(0.9300 1)">Pusillimonas (ex Stolz et al. 2005)</text>
<rect x="1932.3" y="2344.8" width="54.1" height="53.9" fill="#FF7F00"/>
<text x="0" y="0" font-size="35" fill="#161616" transform="translate(2007.7 2387.1) scale(0.9300 1)">Rhizobium</text>
<rect x="1932.3" y="2402.8" width="54.1" height="53.9" fill="#A84DA8"/>
<text x="0" y="0" font-size="35" fill="#161616" transform="translate(2007.7 2445.1) scale(0.9300 1)">Rossellomorea</text>
<rect x="1932.3" y="2460.8" width="54.1" height="53.9" fill="#008A18"/>
<text x="0" y="0" font-size="35" fill="#161616" transform="translate(2007.7 2503.1) scale(0.9300 1)">Shinella</text>
<rect x="1932.3" y="2518.8" width="54.1" height="53.9" fill="#AACDE6"/>
<text x="0" y="0" font-size="35" fill="#161616" transform="translate(2007.7 2561.1) scale(0.9300 1)">Sphingobium</text>
<rect x="1932.3" y="2576.8" width="54.1" height="53.9" fill="#F85E00"/>
<text x="0" y="0" font-size="35" fill="#161616" transform="translate(2007.7 2619.1) scale(0.9300 1)">Staphylococcus</text>
<rect x="1932.3" y="2634.8" width="54.1" height="53.9" fill="#00AF40"/>
<text x="0" y="0" font-size="35" fill="#161616" transform="translate(2007.7 2677.1) scale(0.9300 1)">Stenotrophomonas</text>
<rect x="1932.3" y="2692.8" width="54.1" height="53.9" fill="#F3F3F8"/>
<text x="0" y="0" font-size="35" fill="#161616" transform="translate(2007.7 2735.1) scale(0.9300 1)">Tessaracoccus</text>
<rect x="1932.3" y="2750.8" width="54.1" height="53.9" fill="#00A018"/>
<text x="0" y="0" font-size="35" fill="#161616" transform="translate(2007.7 2793.1) scale(0.9300 1)">Unknown</text>
<rect x="1932.3" y="2808.8" width="54.1" height="53.9" fill="#CAB463"/>
<text x="0" y="0" font-size="35" fill="#161616" transform="translate(2007.7 2851.1) scale(0.9300 1)">others</text>
<text x="0" y="0" font-size="41" fill="#000000" text-anchor="middle" transform="translate(258.8 2661.7) rotate(-90) scale(0.9600 1)">Genus</text>
</svg></body></html>
